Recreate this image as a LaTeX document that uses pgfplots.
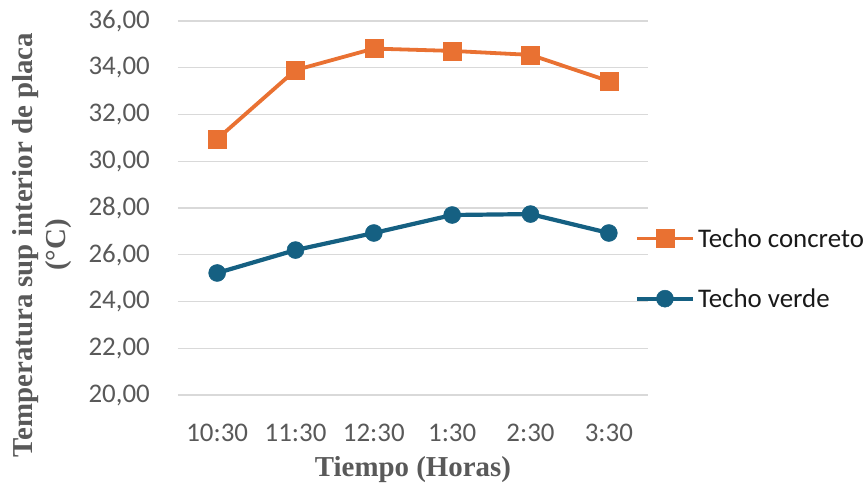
\documentclass[border=0pt]{standalone}
\usepackage{fontspec}
\setmainfont{Liberation Serif}
\newfontfamily\carlito{Carlito}
\usepackage{pgfplots}
\pgfplotsset{compat=1.18}
\definecolor{orng}{HTML}{E97132}
\definecolor{tealb}{HTML}{156082}
\definecolor{txtgray}{HTML}{595959}
\definecolor{gridg}{HTML}{D9D9D9}
\begin{document}
\begin{tikzpicture}
\path[use as bounding box] (-178bp,-96bp) rectangle (689bp,395bp);
\begin{axis}[
  scale only axis, width=470bp, height=374bp,
  at={(0,0)}, anchor=south west,
  xmin=-0.5, xmax=5.5, ymin=20, ymax=36,
  xtick={0,...,5}, xticklabels={10:30,11:30,12:30,1:30,2:30,3:30},
  ytick={20,22,...,36},
  axis line style={draw=none}, major tick length=0pt,
  ymajorgrids, grid style={gridg, line width=1.3bp},
  tick label style={font=\carlito\fontsize{27}{32}\selectfont, text=txtgray, inner sep=0pt},
  yticklabel style={anchor=east, xshift=-28bp,
    /pgf/number format/fixed, /pgf/number format/fixed zerofill,
    /pgf/number format/precision=2, /pgf/number format/use comma,
    /pgf/number format/assume math mode=true},
  xticklabel style={anchor=north, yshift=-29bp},
  xlabel={Tiempo (Horas)},
  xlabel style={at={(rel axis cs:0.5,0)}, anchor=center, yshift=-75bp,
    font=\bfseries\fontsize{29}{33}\selectfont, text=txtgray},
  ylabel={Temperatura sup interior de placa\\(°C)},
  ylabel style={at={(rel axis cs:-0.289,0.401)}, anchor=center, align=center,
    font=\bfseries\fontsize{29}{33}\selectfont, text=txtgray},
  legend style={draw=none, fill=none, inner sep=0pt, outer sep=0pt,
    at={(rel axis cs:0.972,0.338)}, anchor=west,
    font=\carlito\fontsize{27}{32}\selectfont, text=black!90,
    row sep=34bp, nodes={inner sep=3bp}},
  legend cell align=left,
  legend image code/.code={\draw[mark repeat=2, mark phase=2, #1]
    plot coordinates {(0bp,0bp) (28bp,0bp) (56bp,0bp)};},
  clip=false,
]
\addplot[color=orng, line width=3.8bp, mark=square*, mark size=9bp,
  mark options={solid, line width=0.5bp}]
  coordinates {(0,30.95) (1,33.90) (2,34.82) (3,34.72) (4,34.55) (5,33.43)};
\addlegendentry{Techo concreto}
\addplot[color=tealb, line width=4.2bp, mark=*, mark size=8.5bp,
  mark options={solid, line width=0.5bp}]
  coordinates {(0,25.22) (1,26.20) (2,26.93) (3,27.70) (4,27.74) (5,26.93)};
\addlegendentry{Techo verde}
\end{axis}
\end{tikzpicture}
\end{document}
